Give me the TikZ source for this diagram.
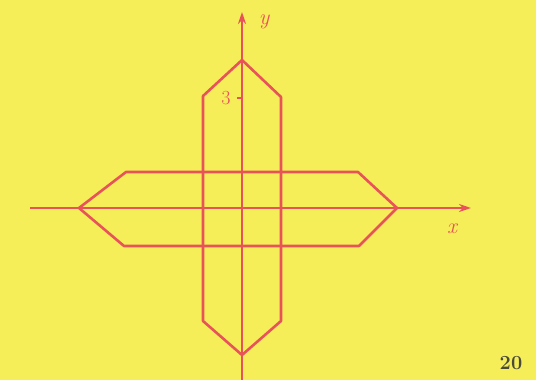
\documentclass[tikz,border=0pt]{standalone}
\usepackage{xcolor}
\usetikzlibrary{arrows.meta}
\definecolor{pageyellow}{HTML}{F5EE58}
\definecolor{penred}{HTML}{E8535A}
\definecolor{numgray}{HTML}{4A4A3A}

\begin{document}
\begin{tikzpicture}[
  x=1pt, y=-1pt,
  axis/.style={draw=penred, line width=2.2pt, -{Stealth[length=12pt, width=8pt]}},
  outline/.style={draw=penred, line width=2.6pt, line join=round},
  handlabel/.style={text=penred, font=\fontsize{22}{22}\selectfont\itshape, inner sep=0pt},
  pagenum/.style={text=numgray, font=\fontsize{20}{20}\selectfont\bfseries, inner sep=0pt}
]
  \fill[pageyellow] (0,0) rectangle (536,380);
  \useasboundingbox (0,0) rectangle (536,380);
  % axes
  \coordinate (xstart) at (30,208);
  \coordinate (xend) at (471,208);
  \coordinate (ystart) at (242,380);
  \coordinate (yend) at (242,12);
  \draw[axis] (xstart) -- (xend);
  \draw[axis] (ystart) -- (yend);
  \node[handlabel] (xlab) at (452,229) {x};
  \node[handlabel] (ylab) at (264,22) {y};
  % tick at 3
  \coordinate (tick) at (242,98);
  \draw[draw=penred, line width=2pt] (tick) -- ++(-5,0);
  \node[handlabel, font=\fontsize{20}{20}\selectfont] (three) at (226,98) {3};
  % vertical hexagon
  \draw[outline] (242,60) -- (281,97) -- (281,321) -- (242,355)
    -- (203,321) -- (203,96) -- cycle;
  % horizontal hexagon
  \draw[outline] (79,208) -- (126,172) -- (358,172) -- (397,208)
    -- (359,246) -- (124,246) -- cycle;
  \node[pagenum] (page) at (511,363) {20};
\end{tikzpicture}
\end{document}
